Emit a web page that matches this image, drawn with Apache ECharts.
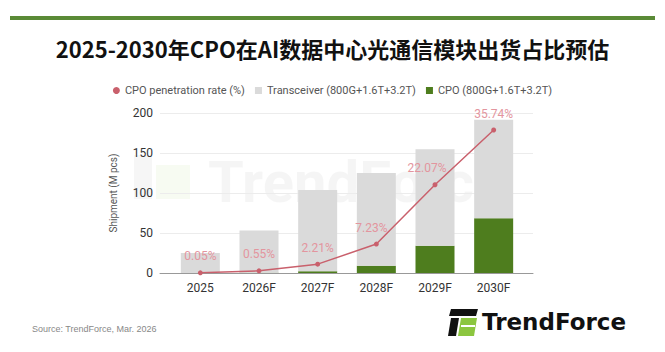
<!DOCTYPE html>
<html>
<head>
<meta charset="utf-8">
<script src="https://cdn.jsdelivr.net/npm/echarts@6/dist/echarts.min.js"></script>
<style>
  html, body { margin: 0; padding: 0; background: #fff; }
  #chart { width: 665px; height: 352px; }
</style>
</head>
<body>
<div id="chart"></div>
<script>
const years = ['2025', '2026F', '2027F', '2028F', '2029F', '2030F'];
// shipment, M pcs (transceiver part stacked on top of CPO)
const cpoShipment = [0.01, 0.3, 2.3, 9.0, 34.1, 68.4];
const transceiverShipment = [25, 52.7, 101.3, 116, 120.5, 123.1];
const cpoRate = [0.05, 0.55, 2.21, 7.23, 22.07, 35.74];
const yTicks = [0, 50, 100, 150, 200];

// labels nudged left where the line climbs steeply
const labelShift = [0, 0, 0, -5, -8, 0];

const chart = echarts.init(document.getElementById('chart'), null, { renderer: 'svg' });

const option = {
  animation: false,
  textStyle: { fontFamily: 'Roboto, "Noto Sans CJK SC", sans-serif' },
  legend: {
    top: 80,
    left: 'center',
    itemWidth: 7,
    itemHeight: 7,
    itemGap: 10,
    textStyle: { fontSize: 11, color: '#555' },
    data: [
      { name: 'CPO penetration rate (%)', icon: 'circle' },
      { name: 'Transceiver (800G+1.6T+3.2T)', icon: 'rect' },
      { name: 'CPO (800G+1.6T+3.2T)', icon: 'rect' }
    ]
  },
  grid: [
    // frame grid: gridlines, y labels, base line
    { left: 160, right: 132, top: 113, bottom: 79 },
    // series grid, narrower like the original
    { left: 171, right: 142, top: 113, bottom: 79 }
  ],
  xAxis: [
    {
      gridIndex: 0, type: 'value', min: 0, max: 1,
      axisLabel: { show: false }, axisTick: { show: false }, splitLine: { show: false },
      axisLine: { show: true, lineStyle: { color: '#999', width: 1 } }
    },
    {
      gridIndex: 1, type: 'category', data: years,
      axisLine: { show: false }, axisTick: { show: false },
      axisLabel: { color: '#333', fontSize: 12, margin: 9 }
    }
  ],
  yAxis: [
    {
      gridIndex: 0, type: 'value', min: 0, max: 200, interval: 50,
      name: 'Shipment (M pcs)', nameLocation: 'middle', nameGap: 42,
      nameTextStyle: { color: '#555', fontSize: 10 },
      axisLine: { show: false }, axisTick: { show: false },
      axisLabel: { color: '#333', fontSize: 12, margin: 7, formatter: v => yTicks.includes(v) ? String(v) : '' },
      splitLine: { lineStyle: { color: '#ececec' } }
    },
    { gridIndex: 1, type: 'value', min: 0, max: 200, show: false },
    { gridIndex: 1, type: 'value', min: 0, max: 40, show: false }
  ],
  series: [
    {
      name: 'CPO (800G+1.6T+3.2T)', type: 'bar', stack: 'ship',
      xAxisIndex: 1, yAxisIndex: 1, barWidth: 39,
      itemStyle: { color: '#4e7d1e' },
      data: cpoShipment
    },
    {
      name: 'Transceiver (800G+1.6T+3.2T)', type: 'bar', stack: 'ship',
      xAxisIndex: 1, yAxisIndex: 1, barWidth: 39,
      itemStyle: { color: '#dadada' },
      data: transceiverShipment
    },
    {
      name: 'CPO penetration rate (%)', type: 'line',
      xAxisIndex: 1, yAxisIndex: 2, z: 5,
      symbol: 'circle', symbolSize: 5,
      lineStyle: { color: '#c9606c', width: 1.5 },
      itemStyle: { color: '#c9606c' },
      label: {
        show: true, position: 'top', distance: 8,
        color: '#e3959e', fontSize: 12,
        formatter: p => p.value.toFixed(2) + '%'
      },
      data: cpoRate.map((v, i) => ({ value: v, label: { offset: [labelShift[i], 0] } }))
    }
  ],
  graphic: [
    { type: 'rect', shape: { x: 10, y: 16, width: 645, height: 4 }, style: { fill: '#5a8a36' } },
    {
      type: 'text', left: 'center', top: 37,
      style: {
        text: '2025-2030年CPO在AI数据中心光通信模块出货占比预估',
        font: 'bold 22px "Noto Sans CJK SC", sans-serif', fill: '#111'
      }
    },
    // faint watermark
    {
      type: 'group', z: -10,
      children: [
        { type: 'rect', shape: { x: 134, y: 155, width: 18, height: 44 }, style: { fill: 'rgba(0,0,0,0.035)' } },
        { type: 'rect', shape: { x: 156, y: 165, width: 34, height: 34 }, style: { fill: 'rgba(120,180,40,0.06)' } },
        {
          type: 'text', x: 208, y: 182,
          style: { text: 'TrendForce', font: 'bold 58px Roboto, sans-serif', fill: 'rgba(0,0,0,0.04)', textVerticalAlign: 'middle' }
        }
      ]
    },
    {
      type: 'text', x: 32, y: 329,
      style: { text: 'Source: TrendForce, Mar. 2026', font: '9px "Liberation Sans Narrow", sans-serif', fill: '#888', textVerticalAlign: 'middle' }
    },
    // logo
    { type: 'polygon', shape: { points: [[451, 309], [478, 309], [476, 316], [449, 316]] }, style: { fill: '#111' } },
    { type: 'polygon', shape: { points: [[451, 318], [459, 318], [456, 336], [448, 336]] }, style: { fill: '#111' } },
    { type: 'polygon', shape: { points: [[461, 318], [477, 318], [474, 336], [458, 336]] }, style: { fill: '#8cc63f' } },
    { type: 'rect', shape: { x: 461, y: 325, width: 14, height: 2 }, style: { fill: '#fff' } },
    {
      type: 'text', x: 482, y: 322,
      style: { text: 'TrendForce', font: 'bold 23px "DejaVu Sans", sans-serif', fill: '#111', textVerticalAlign: 'middle' }
    }
  ]
};

chart.setOption(option);
</script>
</body>
</html>
